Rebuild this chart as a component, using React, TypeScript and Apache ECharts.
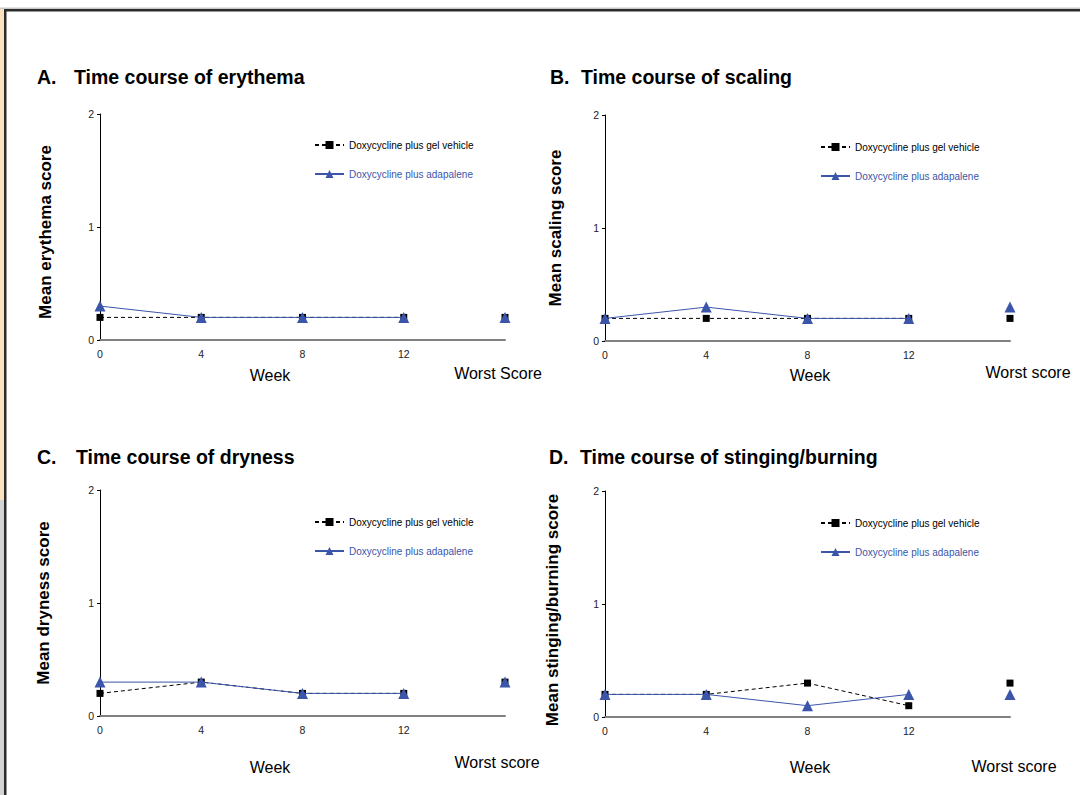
import React, { useEffect, useRef } from "react";
import * as echarts from "echarts";

// ---- data ----
const weeks = [0, 4, 8, 12];
const worstX = 16;
const xTickLabels = ["0", "4", "8", "12"];
const vehicleName = "Doxycycline plus gel vehicle";
const adapaleneName = "Doxycycline plus adapalene";

const panelLetters = ["A.", "B.", "C.", "D."];
const panelTitles = [
  "Time course of erythema",
  "Time course of scaling",
  "Time course of dryness",
  "Time course of stinging/burning",
];
const yAxisNames = [
  "Mean erythema score",
  "Mean scaling score",
  "Mean dryness score",
  "Mean stinging/burning score",
];
const worstLabels = ["Worst Score", "Worst score", "Worst score", "Worst score"];

const erythemaVehicle = [0.2, 0.2, 0.2, 0.2];
const erythemaAdapalene = [0.3, 0.2, 0.2, 0.2];
const erythemaWorst = [0.2, 0.2]; // vehicle, adapalene

const scalingVehicle = [0.2, 0.2, 0.2, 0.2];
const scalingAdapalene = [0.2, 0.3, 0.2, 0.2];
const scalingWorst = [0.2, 0.3];

const drynessVehicle = [0.2, 0.3, 0.2, 0.2];
const drynessAdapalene = [0.3, 0.3, 0.2, 0.2];
const drynessWorst = [0.3, 0.3];

const stingingVehicle = [0.2, 0.2, 0.3, 0.1];
const stingingAdapalene = [0.2, 0.2, 0.1, 0.2];
const stingingWorst = [0.3, 0.2];

const vehicleSeries = [erythemaVehicle, scalingVehicle, drynessVehicle, stingingVehicle];
const adapaleneSeries = [erythemaAdapalene, scalingAdapalene, drynessAdapalene, stingingAdapalene];
const worstSeries = [erythemaWorst, scalingWorst, drynessWorst, stingingWorst];

// ---- layout ----
const grids = [
  { left: 100, top: 114, width: 405, height: 226 },
  { left: 605, top: 115, width: 405, height: 226 },
  { left: 100, top: 490, width: 405, height: 226 },
  { left: 605, top: 491, width: 405, height: 226 },
];
const titleY = [77, 77, 457, 457];
const letterX = [37, 550, 37, 549];
const titleX = [74, 581, 76, 580];
const weekPos = [
  [270, 375],
  [810, 375],
  [270, 767],
  [810, 767],
];
const worstPos = [
  [498, 373],
  [1028, 372],
  [497, 762],
  [1014, 766],
];
const legendPos = [
  [314, 140],
  [820, 142],
  [314, 517],
  [820, 518],
];
const yNameGap = [46, 41, 48, 44];
const yNameShift = [5, 0, 0, 6];

const BLUE = "#3B55AA";
const FONT = "'Liberation Sans', Arial, sans-serif";

export default function App() {
  const ref = useRef<HTMLDivElement>(null);

  useEffect(() => {
    if (!ref.current) return;
    const chart = echarts.init(ref.current, undefined, { renderer: "svg" });

    const series: any[] = [];
    grids.forEach((_, i) => {
      series.push({
        name: vehicleName,
        type: "line",
        xAxisIndex: i,
        yAxisIndex: i,
        data: weeks.map((w, k) => [w, vehicleSeries[i][k]]),
        symbol: "rect",
        symbolSize: 7,
        lineStyle: { color: "#000", width: 1, type: [4, 3] },
        itemStyle: { color: "#000", opacity: 1 },
        z: 2,
      });
      series.push({
        name: adapaleneName,
        type: "line",
        xAxisIndex: i,
        yAxisIndex: i,
        data: weeks.map((w, k) => [w, adapaleneSeries[i][k]]),
        symbol: "triangle",
        symbolSize: 11,
        lineStyle: { color: BLUE, width: 1, type: "solid" },
        itemStyle: { color: BLUE, opacity: 1 },
        z: 3,
      });
      series.push({
        name: "worst-vehicle-" + i,
        type: "scatter",
        xAxisIndex: i,
        yAxisIndex: i,
        data: [[worstX, worstSeries[i][0]]],
        symbol: "rect",
        symbolSize: 7,
        itemStyle: { color: "#000", opacity: 1 },
        z: 2,
      });
      series.push({
        name: "worst-adapalene-" + i,
        type: "scatter",
        xAxisIndex: i,
        yAxisIndex: i,
        data: [[worstX, worstSeries[i][1]]],
        symbol: "triangle",
        symbolSize: 11,
        itemStyle: { color: BLUE, opacity: 1 },
        z: 3,
      });
    });

    const graphic: any[] = [
      // frame
      { type: "rect", shape: { x: 0, y: 9, width: 4, height: 491 }, style: { fill: "#FBE2BF" }, silent: true },
      { type: "rect", shape: { x: 0, y: 500, width: 4, height: 295 }, style: { fill: "#D4D4D4" }, silent: true },
      { type: "rect", shape: { x: 0, y: 7.5, width: 1080, height: 1.5 }, style: { fill: "#C8C8C8" }, silent: true },
      { type: "rect", shape: { x: 4, y: 9, width: 1076, height: 2.5 }, style: { fill: "#2B2B2B" }, silent: true },
      { type: "rect", shape: { x: 4, y: 9, width: 2.5, height: 786 }, style: { fill: "#2B2B2B" }, silent: true },
    ];
    grids.forEach((_, i) => {
      graphic.push({
        type: "text",
        x: letterX[i],
        y: titleY[i],
        style: {
          text: panelLetters[i],
          fontSize: 19.5,
          fontWeight: "bold",
          fontFamily: FONT,
          fill: "#000",
          textAlign: "left",
          textVerticalAlign: "middle",
        },
      });
      graphic.push({
        type: "text",
        x: titleX[i],
        y: titleY[i],
        style: {
          text: panelTitles[i],
          fontSize: 19.5,
          fontWeight: "bold",
          fontFamily: FONT,
          fill: "#000",
          textAlign: "left",
          textVerticalAlign: "middle",
        },
      });
      graphic.push({
        type: "text",
        x: weekPos[i][0],
        y: weekPos[i][1],
        style: {
          text: "Week",
          fontSize: 16,
          fontFamily: FONT,
          fill: "#000",
          textAlign: "center",
          textVerticalAlign: "middle",
        },
      });
      graphic.push({
        type: "text",
        x: worstPos[i][0],
        y: worstPos[i][1],
        style: {
          text: worstLabels[i],
          fontSize: 16,
          fontFamily: FONT,
          fill: "#000",
          textAlign: "center",
          textVerticalAlign: "middle",
        },
      });
    });

    const option: any = {
      animation: false,
      backgroundColor: "#fff",
      grid: grids.map((g) => ({ ...g, containLabel: false })),
      xAxis: grids.map((_, i) => ({
        type: "value",
        gridIndex: i,
        min: 0,
        max: worstX,
        interval: 4,
        axisLine: { show: true, onZero: false, lineStyle: { color: "#808080", width: 2 } },
        axisTick: { show: false },
        splitLine: { show: false },
        axisLabel: {
          fontSize: 10.5,
          fontFamily: FONT,
          color: "#222",
          margin: 8,
          formatter: (v: number) => {
            const k = weeks.indexOf(v);
            return k >= 0 ? xTickLabels[k] : "";
          },
        },
      })),
      yAxis: grids.map((_, i) => ({
        type: "value",
        gridIndex: i,
        min: 0,
        max: 2,
        interval: 1,
        name: yAxisNames[i],
        nameLocation: "middle",
        nameGap: yNameGap[i],
        nameTextStyle: {
          fontSize: 17,
          fontWeight: "bold",
          fontFamily: FONT,
          color: "#000",
          padding: [0, yNameShift[i] * 2, 0, 0],
        },
        axisLine: { show: true, lineStyle: { color: "#000", width: 1 } },
        axisTick: { show: true, length: 3, lineStyle: { color: "#000" } },
        splitLine: { show: false },
        axisLabel: { fontSize: 10.5, fontFamily: FONT, color: "#222", margin: 6 },
      })),
      legend: grids.map((_, i) => ({
        orient: "vertical",
        left: legendPos[i][0],
        top: legendPos[i][1],
        itemWidth: 29,
        itemHeight: 10,
        itemGap: 19,
        padding: 0,
        textStyle: { fontSize: 10, fontFamily: FONT, lineHeight: 10 },
        data: [
          { name: vehicleName, textStyle: { color: "#000" } },
          { name: adapaleneName, textStyle: { color: BLUE } },
        ],
        selectedMode: false,
      })),
      graphic,
      series,
    };

    chart.setOption(option);
    return () => chart.dispose();
  }, []);

  return (
    <div
      ref={ref}
      style={{ position: "fixed", left: 0, top: 0, width: 1080, height: 795, background: "#fff" }}
    />
  );
}
